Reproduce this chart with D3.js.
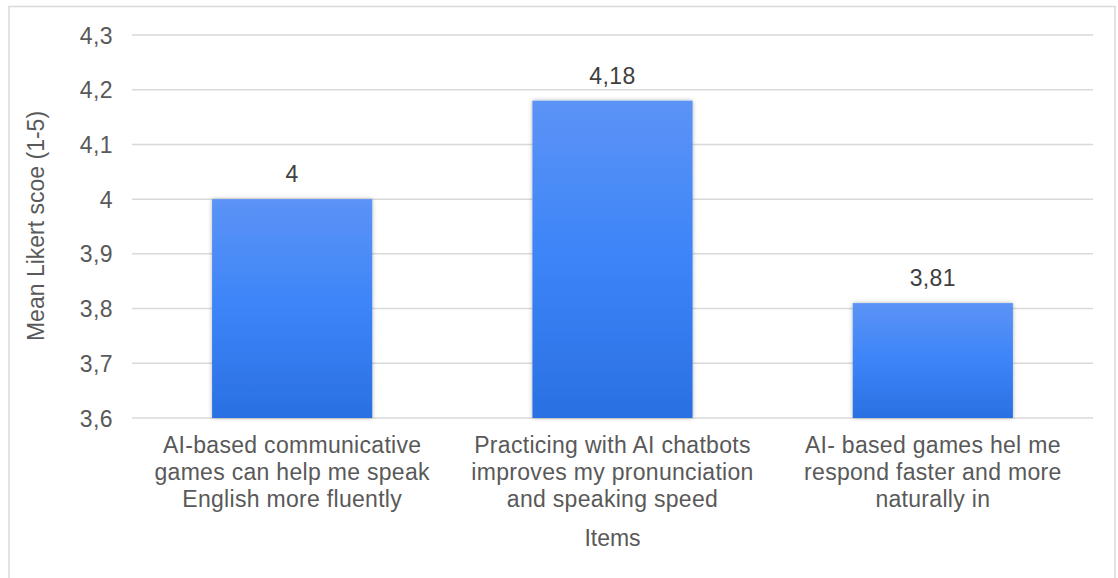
<!DOCTYPE html>
<html>
<head>
<meta charset="utf-8">
<script src="https://cdn.jsdelivr.net/npm/d3@7"></script>
<style>
  body { margin: 0; background: #fff; }
  text { font-family: "Liberation Sans", Arial, sans-serif; }
</style>
</head>
<body>
<svg id="chart" width="1118" height="578"></svg>
<script>
// data
var items = [
  ["AI-based communicative", "games can help me speak", "English more fluently"],
  ["Practicing with AI chatbots", "improves my pronunciation", "and speaking speed"],
  ["AI- based games hel me", "respond faster and more", "naturally in"]
];
var scores = [4, 4.18, 3.81];
var yTicks = [3.6, 3.7, 3.8, 3.9, 4.0, 4.1, 4.2, 4.3];

var width = 1118, height = 578;
var margin = {left: 132, right: 25, top: 35, bottom: 160};
var fontSize = "23px";

var svg = d3.select("#chart");

// outer frame
svg.append("rect")
    .attr("x", 9).attr("y", 6.5)
    .attr("width", 1106).attr("height", 600)
    .attr("fill", "#fff")
    .attr("stroke", "#d9d9d9")
    .attr("stroke-width", 1.5);

var defs = svg.append("defs");
var grad = defs.append("linearGradient")
    .attr("id", "barGrad")
    .attr("x1", 0).attr("y1", 0).attr("x2", 0).attr("y2", 1);
grad.append("stop").attr("offset", "0%").attr("stop-color", "#5c93f6");
grad.append("stop").attr("offset", "50%").attr("stop-color", "#3c84f8");
grad.append("stop").attr("offset", "100%").attr("stop-color", "#2a70e2");

var shadow = defs.append("filter").attr("id", "shadow")
    .attr("x", "-10%").attr("y", "-10%").attr("width", "120%").attr("height", "120%");
shadow.append("feDropShadow")
    .attr("dx", 0).attr("dy", 0).attr("stdDeviation", 2)
    .attr("flood-color", "#000").attr("flood-opacity", 0.3);

var x = d3.scaleBand()
    .domain(d3.range(items.length))
    .range([margin.left, width - margin.right])
    .paddingInner(0.5)
    .paddingOuter(0.25);

var y = d3.scaleLinear()
    .domain([3.6, 4.3])
    .range([418, margin.top]);

var fmt = function(v) { return String(+v.toFixed(2)).replace(".", ","); };

// gridlines
svg.append("g")
  .selectAll("line")
  .data(yTicks)
  .join("line")
    .attr("x1", margin.left).attr("x2", width - margin.right)
    .attr("y1", function(d) { return y(d); })
    .attr("y2", function(d) { return y(d); })
    .attr("stroke", "#d9d9d9")
    .attr("stroke-width", 1.5);

// y tick labels
svg.append("g")
  .selectAll("text")
  .data(yTicks)
  .join("text")
    .attr("x", 113)
    .attr("y", function(d) { return y(d) + 8.5; })
    .attr("text-anchor", "end")
    .attr("font-size", fontSize)
    .attr("letter-spacing", "0.4px")
    .attr("fill", "#595959")
    .text(function(d) { return fmt(d); });

// bars
svg.append("g")
  .selectAll("rect")
  .data(scores)
  .join("rect")
    .attr("x", function(d, i) { return x(i); })
    .attr("y", function(d) { return y(d); })
    .attr("width", x.bandwidth())
    .attr("height", function(d) { return y(3.6) - y(d); })
    .attr("fill", "url(#barGrad)")
    .attr("filter", "url(#shadow)");

// value labels
svg.append("g")
  .selectAll("text")
  .data(scores)
  .join("text")
    .attr("x", function(d, i) { return x(i) + x.bandwidth() / 2; })
    .attr("y", function(d) { return y(d) - 17; })
    .attr("text-anchor", "middle")
    .attr("font-size", fontSize)
    .attr("letter-spacing", "0.4px")
    .attr("fill", "#404040")
    .text(function(d) { return fmt(d); });

// category labels
var cat = svg.append("g")
  .selectAll("text")
  .data(items)
  .join("text")
    .attr("x", function(d, i) { return x(i) + x.bandwidth() / 2; })
    .attr("y", 453)
    .attr("text-anchor", "middle")
    .attr("font-size", fontSize)
    .attr("letter-spacing", "0.3px")
    .attr("fill", "#595959");
cat.selectAll("tspan")
  .data(function(d) { return d; })
  .join("tspan")
    .attr("x", function() { return d3.select(this.parentNode).attr("x"); })
    .attr("dy", function(d, i) { return i === 0 ? 0 : 27; })
    .text(function(d) { return d; });

// axis titles
svg.append("text")
    .attr("x", x(1) + x.bandwidth() / 2)
    .attr("y", 546)
    .attr("text-anchor", "middle")
    .attr("font-size", fontSize)
    .attr("fill", "#595959")
    .text("Items");

svg.append("text")
    .attr("transform", "translate(44," + 226 + ") rotate(-90)")
    .attr("text-anchor", "middle")
    .attr("font-size", fontSize)
    .attr("fill", "#595959")
    .text("Mean Likert scoe (1-5)");
</script>
</body>
</html>
